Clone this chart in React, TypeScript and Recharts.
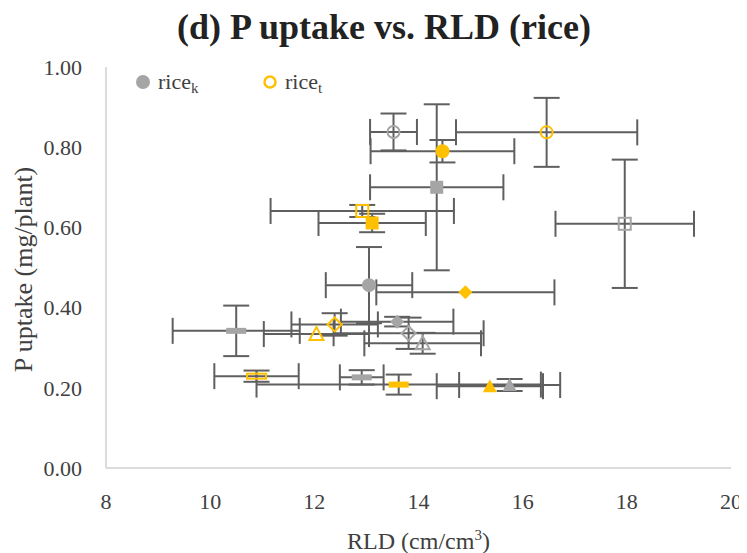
import React from 'react';
import { ScatterChart, Scatter, XAxis, YAxis, ErrorBar, Label } from 'recharts';

const GRAY = '#A5A5A5';
const GOLD = '#FFC000';
const ERR = '#5F5F5F';
const TXT = '#404040';
const FONT = '"Liberation Serif", "Times New Roman", serif';

// ---- data (one entry per treatment point) ----
const pointCultivar = ['k', 't', 'k', 't', 'k', 't', 't', 'k', 't', 'k', 't', 't', 'k', 'k', 'k', 't', 'k', 't', 't', 'k'];
const pointShape = ['circle', 'circle', 'square', 'circle', 'square', 'square', 'square', 'circle', 'diamond', 'dash', 'diamond', 'triangle', 'diamond', 'diamond', 'triangle', 'dash', 'dash', 'dash', 'triangle', 'triangle'];
const pointFilled = [false, true, true, false, false, false, true, true, true, true, false, false, true, false, false, false, true, true, true, true];
const pointRLD = [13.52, 14.46, 14.35, 16.46, 17.96, 12.92, 13.11, 13.05, 14.9, 10.5, 12.39, 12.04, 13.59, 13.81, 14.08, 10.89, 12.91, 13.62, 15.37, 15.75];
const pointUptake = [0.838, 0.79, 0.7, 0.837, 0.609, 0.641, 0.611, 0.456, 0.438, 0.342, 0.358, 0.334, 0.365, 0.336, 0.311, 0.229, 0.226, 0.208, 0.204, 0.207];
const pointRLDErr = [0.45, 1.38, 1.28, 1.74, 1.33, 1.76, 1.03, 0.83, 1.71, 1.22, 0.83, 1.01, 1.08, 1.44, 1.12, 0.81, 0.42, 2.73, 1.02, 0.97];
const pointUptakeErr = [0.046, 0.028, 0.207, 0.086, 0.16, 0.015, 0.023, 0.095, 0, 0.063, 0.028, 0, 0.012, 0.039, 0.026, 0.014, 0.018, 0.025, 0, 0.015];

const xTicks = [8, 10, 12, 14, 16, 18, 20];
const yTicks = [0, 0.2, 0.4, 0.6, 0.8, 1.0];

const legendItems = [
  { name: 'rice', sub: 'k', color: GRAY, filled: true },
  { name: 'rice', sub: 't', color: GOLD, filled: false },
];

const allPoints = pointRLD.map((x, i) => ({
  x,
  y: pointUptake[i],
  ex: pointRLDErr[i],
  ey: pointUptakeErr[i],
  cultivar: pointCultivar[i],
  shape: pointShape[i],
  filled: pointFilled[i],
}));

const kPoints = allPoints.filter((p) => p.cultivar === 'k');
const tPoints = allPoints.filter((p) => p.cultivar === 't');

const Marker = (props: any) => {
  const { cx, cy, payload } = props;
  if (cx == null || cy == null || !payload) return <g />;
  const color = payload.cultivar === 'k' ? GRAY : GOLD;
  const fill = payload.filled ? color : 'none';
  const stroke = payload.filled ? 'none' : color;
  const sw = 2;
  switch (payload.shape) {
    case 'circle':
      return payload.filled ? (
        <circle cx={cx} cy={cy} r={7} fill={color} />
      ) : (
        <circle cx={cx} cy={cy} r={6} fill="none" stroke={color} strokeWidth={sw} />
      );
    case 'square':
      return payload.filled ? (
        <rect x={cx - 6.5} y={cy - 6.5} width={13} height={13} fill={color} />
      ) : (
        <rect x={cx - 6} y={cy - 6} width={12} height={12} fill="none" stroke={color} strokeWidth={sw} />
      );
    case 'diamond':
      return (
        <polygon
          points={`${cx},${cy - 7} ${cx + 7},${cy} ${cx},${cy + 7} ${cx - 7},${cy}`}
          fill={fill}
          stroke={stroke}
          strokeWidth={sw}
        />
      );
    case 'triangle':
      return (
        <polygon
          points={`${cx},${cy - 7} ${cx + 7},${cy + 6} ${cx - 7},${cy + 6}`}
          fill={fill}
          stroke={stroke}
          strokeWidth={sw}
        />
      );
    case 'dash':
      return payload.filled ? (
        <rect x={cx - 10} y={cy - 3} width={20} height={6} fill={color} />
      ) : (
        <rect x={cx - 9.5} y={cy - 2.5} width={19} height={5} fill="none" stroke={color} strokeWidth={sw} />
      );
    default:
      return <g />;
  }
};

const XTitle = (props: any) => {
  const vb = props.viewBox || {};
  return (
    <text
      x={vb.x + vb.width / 2}
      y={vb.y + 81}
      textAnchor="middle"
      fontFamily={FONT}
      fontSize={24}
      fill={TXT}
    >
      RLD (cm/cm
      <tspan dy={-9} fontSize={15}>3</tspan>
      <tspan dy={9}>)</tspan>
    </text>
  );
};

const YTitle = (props: any) => {
  const vb = props.viewBox || {};
  const cx = 24;
  const cy = vb.y + vb.height / 2 + 2;
  return (
    <text
      x={cx}
      y={cy}
      transform={`rotate(-90 ${cx} ${cy})`}
      textAnchor="middle"
      fontFamily={FONT}
      fontSize={26}
      fill={TXT}
    >
      P uptake (mg/plant)
    </text>
  );
};

export default function App() {
  return (
    <div style={{ position: 'relative', width: 739, height: 545 }}>
      <ScatterChart width={739} height={545} margin={{ top: 59, right: 16, bottom: 0, left: 0 }}>
        <XAxis
          type="number"
          dataKey="x"
          domain={[8, 20]}
          ticks={xTicks}
          allowDataOverflow
          height={85}
          tickLine={false}
          tickSize={0}
          tickMargin={25}
          axisLine={{ stroke: '#D0D0D0', strokeWidth: 1.5 }}
          tick={{ fontFamily: FONT, fontSize: 22, fill: TXT }}
        >
          <Label content={<XTitle />} />
        </XAxis>
        <YAxis
          type="number"
          dataKey="y"
          domain={[0, 1]}
          ticks={yTicks}
          allowDataOverflow
          width={98}
          tickLine={false}
          tickSize={0}
          tickMargin={24}
          tickFormatter={(v: number) => v.toFixed(2)}
          axisLine={{ stroke: '#D0D0D0', strokeWidth: 1.5 }}
          tick={{ fontFamily: FONT, fontSize: 22, fill: TXT }}
        >
          <Label content={<YTitle />} />
        </YAxis>
        <Scatter data={allPoints} shape={() => <g />} isAnimationActive={false}>
          <ErrorBar dataKey="ex" direction="x" width={13} stroke={ERR} strokeWidth={2} isAnimationActive={false} />
          <ErrorBar dataKey="ey" direction="y" width={13} stroke={ERR} strokeWidth={2} isAnimationActive={false} />
        </Scatter>
        <Scatter name="rice_k" data={kPoints} shape={<Marker />} isAnimationActive={false} />
        <Scatter name="rice_t" data={tPoints} shape={<Marker />} isAnimationActive={false} />
      </ScatterChart>
      <svg
        width={739}
        height={545}
        style={{ position: 'absolute', left: 0, top: 0, pointerEvents: 'none' }}
      >
        <text
          x={376}
          y={31}
          textAnchor="middle"
          fontFamily={FONT}
          fontWeight="bold"
          fontSize={36}
          fill="#222"
        >
          (d) P uptake vs. RLD (rice)
        </text>
        {legendItems.map((it, i) => {
          const lx = 135 + i * 127;
          const ly = 74;
          return (
            <g key={i}>
              {it.filled ? (
                <circle cx={lx} cy={ly} r={7} fill={it.color} />
              ) : (
                <circle cx={lx} cy={ly} r={5.5} fill="none" stroke={it.color} strokeWidth={2.5} />
              )}
              <text x={lx + 15} y={ly + 7} fontFamily={FONT} fontSize={22} fill={TXT}>
                {it.name}
                <tspan dy={4} fontSize={15}>{it.sub}</tspan>
              </text>
            </g>
          );
        })}
      </svg>
    </div>
  );
}
